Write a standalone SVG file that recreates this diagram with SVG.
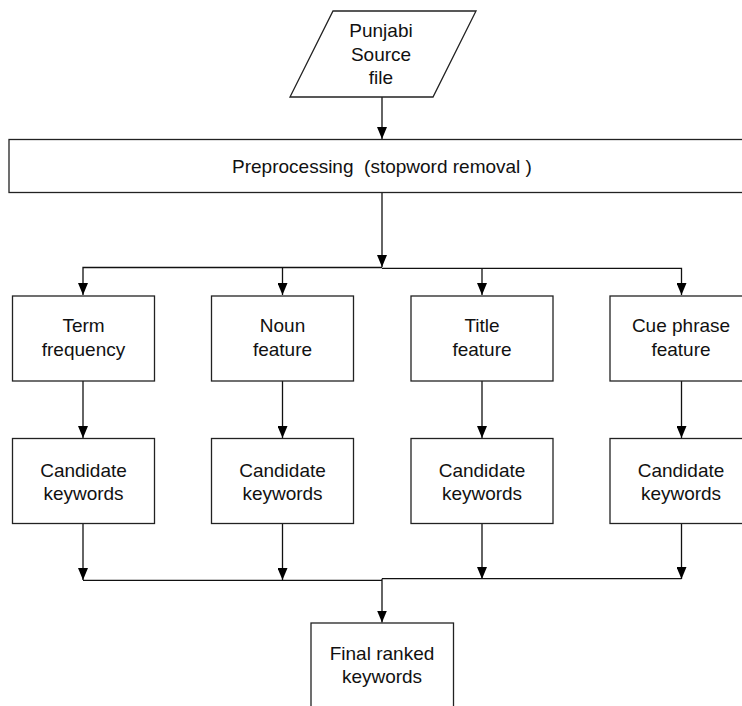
<svg xmlns="http://www.w3.org/2000/svg" width="742" height="706" viewBox="0 0 742 706">
<style>
.box{fill:#fff;stroke:#222;stroke-width:1.3}
.ln{fill:none;stroke:#111;stroke-width:1.3}
.t{font-family:"Liberation Sans",Arial,sans-serif;font-size:19px;fill:#111;text-anchor:middle}
</style>
<defs>
<marker id="ah" viewBox="0 0 12 10" refX="12" refY="5" markerWidth="12" markerHeight="10" orient="auto" markerUnits="userSpaceOnUse">
<path d="M0,0 L12,5 L0,10 z" fill="#000"/>
</marker>
</defs>
<rect width="742" height="706" fill="#fff"/>
<g id="connectors">
<path class="ln" d="M382,97 V139" marker-end="url(#ah)"/>
<path class="ln" d="M382,193 V267" marker-end="url(#ah)"/>
<path class="ln" d="M382,267.5 H83 V295"  marker-end="url(#ah)"/>
<path class="ln" d="M282.5,267.5 V295" marker-end="url(#ah)"/>
<path class="ln" d="M382,268.3 H681.5 V295" marker-end="url(#ah)"/>
<path class="ln" d="M482,268.3 V295" marker-end="url(#ah)"/>
<path class="ln" d="M83,381 V438" marker-end="url(#ah)"/>
<path class="ln" d="M282.5,381 V438" marker-end="url(#ah)"/>
<path class="ln" d="M482,381 V438" marker-end="url(#ah)"/>
<path class="ln" d="M681.5,381 V438" marker-end="url(#ah)"/>
<path class="ln" d="M83,523 V580" marker-end="url(#ah)"/>
<path class="ln" d="M282.5,523 V580" marker-end="url(#ah)"/>
<path class="ln" d="M482,523 V579" marker-end="url(#ah)"/>
<path class="ln" d="M681.5,523 V579" marker-end="url(#ah)"/>
<path class="ln" d="M83,580.3 H382"/>
<path class="ln" d="M382,578.7 H681.5"/>
<path class="ln" d="M382,578.7 V622.5" marker-end="url(#ah)"/>
</g>
<g id="source">
<polygon class="box" points="333,11 476,11 433,97 290,97"/>
<text class="t" x="381" y="37">Punjabi</text>
<text class="t" x="381" y="61">Source</text>
<text class="t" x="381" y="84">file</text>
</g>
<g id="preprocessing">
<rect class="box" x="9" y="139.5" width="745" height="53"/>
<text class="t" x="382" y="173" xml:space="preserve">Preprocessing  (stopword removal )</text>
</g>
<g id="term">
<rect class="box" x="12.5" y="296" width="142" height="85"/>
<text class="t" x="83.5" y="332">Term</text>
<text class="t" x="83.5" y="356">frequency</text>
</g>
<g id="noun">
<rect class="box" x="211.5" y="296" width="142" height="85"/>
<text class="t" x="282.5" y="332">Noun</text>
<text class="t" x="282.5" y="356">feature</text>
</g>
<g id="title">
<rect class="box" x="411" y="296" width="142" height="85"/>
<text class="t" x="482" y="332">Title</text>
<text class="t" x="482" y="356">feature</text>
</g>
<g id="cue">
<rect class="box" x="610" y="296" width="142" height="85"/>
<text class="t" x="681" y="332">Cue phrase</text>
<text class="t" x="681" y="356">feature</text>
</g>
<g id="cand1">
<rect class="box" x="12.5" y="438.5" width="142" height="85"/>
<text class="t" x="83.5" y="476.5">Candidate</text>
<text class="t" x="83.5" y="500">keywords</text>
</g>
<g id="cand2">
<rect class="box" x="211.5" y="438.5" width="142" height="85"/>
<text class="t" x="282.5" y="476.5">Candidate</text>
<text class="t" x="282.5" y="500">keywords</text>
</g>
<g id="cand3">
<rect class="box" x="411" y="438.5" width="142" height="85"/>
<text class="t" x="482" y="476.5">Candidate</text>
<text class="t" x="482" y="500">keywords</text>
</g>
<g id="cand4">
<rect class="box" x="610" y="438.5" width="142" height="85"/>
<text class="t" x="681" y="476.5">Candidate</text>
<text class="t" x="681" y="500">keywords</text>
</g>
<g id="final">
<rect class="box" x="311" y="623" width="142.5" height="100"/>
<text class="t" x="382" y="659.5">Final ranked</text>
<text class="t" x="382" y="683">keywords</text>
</g>
</svg>
